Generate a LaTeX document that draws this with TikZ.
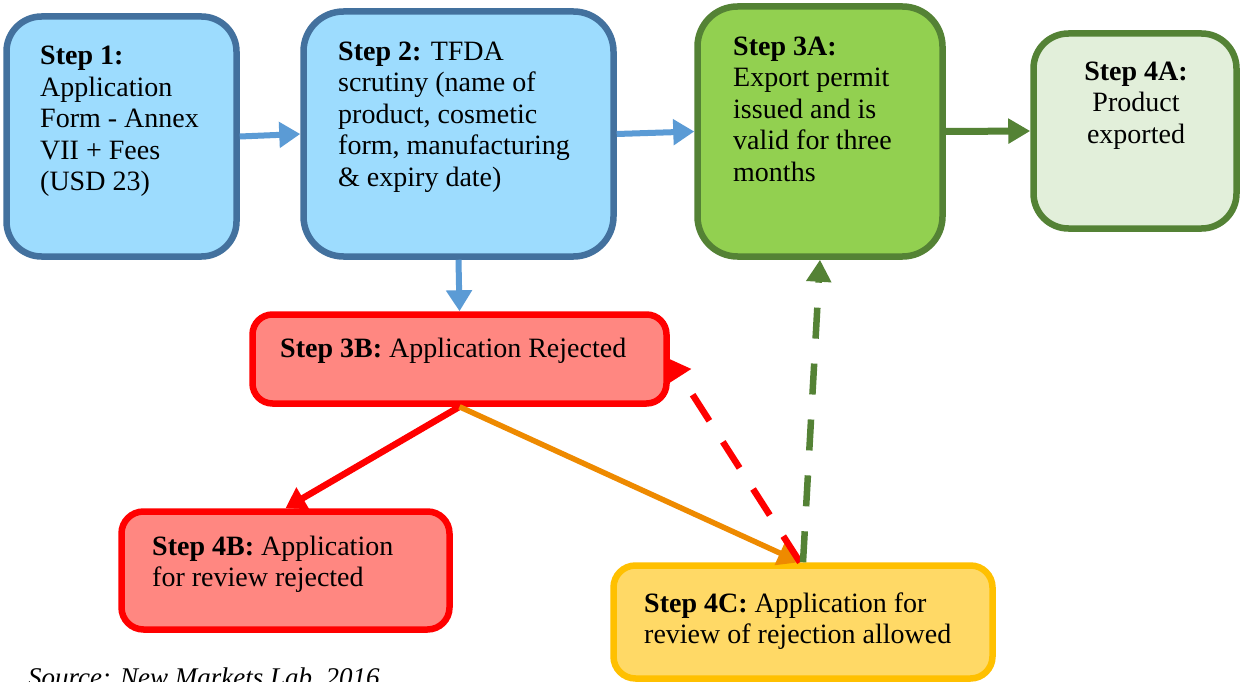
\documentclass[tikz,border=0pt]{standalone}
\usepackage{fontspec}
\setmainfont{Liberation Serif}
\usetikzlibrary{arrows.meta,calc}
\definecolor{bluefill}{HTML}{9DDCFE}
\definecolor{blueline}{HTML}{43719E}
\definecolor{bluearrow}{HTML}{5B9BD5}
\definecolor{greenfill}{HTML}{92D050}
\definecolor{greenline}{HTML}{548235}
\definecolor{palegreen}{HTML}{E2EFDA}
\definecolor{salmon}{HTML}{FF8781}
\definecolor{redline}{HTML}{FF0000}
\definecolor{yellowfill}{HTML}{FFD966}
\definecolor{yellowline}{HTML}{FFC000}
\definecolor{orangearrow}{HTML}{EE8A00}
\begin{document}
\begin{tikzpicture}[x=1pt,y=-1pt,
  stepbox/.style={rectangle,inner sep=0pt,line width=6.5pt},
  bluebox/.style={stepbox,fill=bluefill,draw=blueline},
  greenbox/.style={stepbox,fill=greenfill,draw=greenline},
  palebox/.style={stepbox,fill=palegreen,draw=greenline},
  redbox/.style={stepbox,fill=salmon,draw=redline},
  yellowbox/.style={stepbox,fill=yellowfill,draw=yellowline},
  txt/.style={inner sep=0pt,align=left,anchor=north west,font=\fontsize{28}{31.5}\selectfont},
  barrow/.style={draw=bluearrow,line width=6pt,-{Triangle[length=21pt,width=25pt]}},
  garrow/.style={draw=greenline,line width=7pt,-{Triangle[length=22pt,width=24pt]}},
  rarrow/.style={draw=redline,line width=6.5pt,-{Triangle[length=20pt,width=24pt]}},
  oarrow/.style={draw=orangearrow,line width=5.5pt,-{Triangle[length=22pt,width=25pt]}},
  dashpat/.style={dash pattern=on 31pt off 25pt}
]
\useasboundingbox (0,0) rectangle (1242,682);
\fill[white] (0,0) rectangle (1242,682);

% boxes
\node[bluebox,rounded corners=35pt,minimum width=230pt,minimum height=240pt] (s1) at (121.5,136.5) {};
\node[bluebox,rounded corners=40pt,minimum width=310pt,minimum height=245pt] (s2) at (458.5,134) {};
\node[greenbox,rounded corners=40pt,minimum width=245pt,minimum height=250pt] (s3a) at (820,131.5) {};
\node[palebox,rounded corners=35pt,minimum width=203pt,minimum height=195pt] (s4a) at (1135,131) {};
\node[redbox,rounded corners=20pt,minimum width=414pt,minimum height=89pt] (s3b) at (459.5,359) {};
\node[redbox,rounded corners=22pt,minimum width=328pt,minimum height=118pt] (s4b) at (285.5,570.5) {};
\node[yellowbox,rounded corners=22pt,minimum width=379pt,minimum height=113pt] (s4c) at (803,622) {};

% texts
\node[txt] (t1) at (40,42.5) {\strut\textbf{Step 1:}\\Application\\Form - Annex\\VII + Fees\\(USD 23)};
\node[txt] (t2) at (338,38) {\strut\textbf{Step 2:} TFDA\\scrutiny (name of\\product, cosmetic\\form, manufacturing\\\& expiry date)};
\node[txt] (t3a) at (733,33) {\strut\textbf{Step 3A:}\\Export permit\\issued and is\\valid for three\\months};
\node[txt,align=center,anchor=north] (t4a) at (1136,58) {\strut\textbf{Step 4A:}\\Product\\exported};
\node[txt] (t3b) at (280,335) {\strut\textbf{Step 3B:} Application Rejected};
\node[txt] (t4b) at (152,533) {\strut\textbf{Step 4B:} Application\\for review rejected};
\node[txt] (t4c) at (644,590) {\strut\textbf{Step 4C:} Application for\\review of rejection allowed};
\node[inner sep=0pt,anchor=base west,font=\fontsize{27}{31}\selectfont\itshape] (src) at (28,686) {Source: New Markets Lab, 2016};

% connectors
\draw[barrow] (s1.east) -- (s2.west);
\draw[barrow] (s2.east) -- (s3a.west);
\draw[barrow] (s2.south) -- (s3b.north);
\draw[garrow] (s3a.east) -- (s4a.west);
\draw[rarrow] (s3b.south) -- (s4b.north);
\draw[oarrow] (s3b.south) -- ($(s4c.north)+(-3,0)$);
\draw[rarrow,dashpat] ($(s4c.north)+(-3,0)$) -- (s3b.east);
\draw[garrow,line width=6.5pt,dashpat] (s4c.north) -- (s3a.south);
\end{tikzpicture}
\end{document}
